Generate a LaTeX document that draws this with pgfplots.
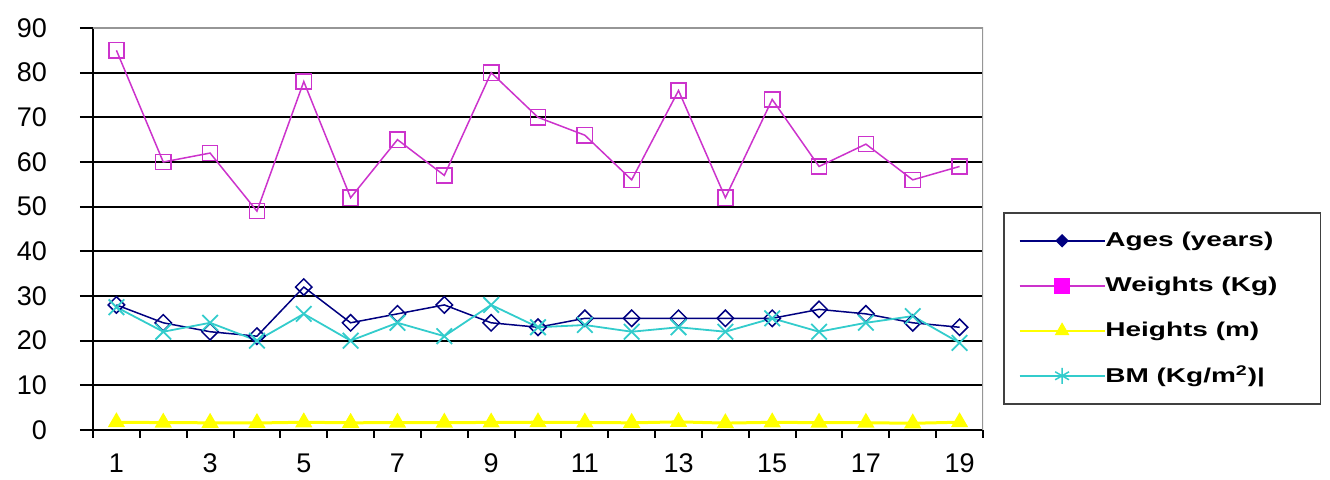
\documentclass[border=0pt]{standalone}
\usepackage{pgfplots}
\pgfplotsset{compat=1.18}
\usepackage{fontspec}
\setmainfont{Liberation Sans}
\newfontfamily\legfont[FakeStretch=1.4]{Liberation Sans}

\definecolor{agec}{RGB}{0,0,128}
\definecolor{wtc}{RGB}{204,51,204}
\definecolor{wtfill}{RGB}{255,0,255}
\definecolor{htc}{RGB}{255,255,0}
\definecolor{bmc}{RGB}{51,204,204}
\definecolor{bordergray}{RGB}{150,150,150}

% 19 subjects
\pgfplotstableread{
n  age weight height bmi
1  28  85  1.74  27.5
2  24  60  1.65  22
3  22  62  1.61  24
4  21  49  1.57  20
5  32  78  1.73  26
6  24  52  1.61  20
7  26  65  1.65  24
8  28  57  1.65  21
9  24  80  1.69  28
10 23  70  1.74  23
11 25  66  1.69  23.5
12 25  56  1.60  22
13 25  76  1.82  23
14 25  52  1.54  22
15 25  74  1.72  25
16 27  59  1.64  22
17 26  64  1.63  24
18 24  56  1.50  25.5
19 23  59  1.74  19.5
}\subjects

\begin{document}
\begin{tikzpicture}
\path[use as bounding box] (0,0) rectangle (665pt,240pt);
\begin{axis}[
    at={(46.5pt,25pt)}, anchor=south west,
    scale only axis,
    width=445pt,
    height=201pt,
    xmin=0.5, xmax=19.5,
    ymin=0, ymax=90,
    axis lines=left,
    axis line style={-, black, line width=1pt},
    ytick={0,10,...,90},
    xtick={1,3,...,19},
    minor xtick={0.5,1.5,...,19.5},
    tick align=outside,
    major x tick style={draw=none},
    major tick length=6.5pt,
    minor tick length=4pt,
    tick style={black, line width=1pt},
    ymajorgrids,
    grid style={black, line width=1pt},
    /pgf/number format/assume math mode=true,
    tick label style={font=\fontsize{13.5}{14}\selectfont},
    yticklabel style={xshift=-13pt},
    xticklabel style={yshift=-2pt},
    legend image code/.code={
        \draw[mark repeat=2, mark phase=2, #1]
            plot coordinates {(0pt,0pt) (21.25pt,0pt) (42.5pt,0pt)};
    },
    legend style={
        at={(1.0225,0.5423)}, anchor=north west,
        draw=black!75, line width=0.8pt,
        inner xsep=7.5pt, inner ysep=7pt,
        row sep=8.5pt,
        nodes={inner sep=0pt, minimum height=14pt},
        font=\legfont\bfseries\fontsize{10}{12}\selectfont,
        /tikz/every even column/.append style={column sep=6.5pt},
        cells={anchor=west},
    },
]
\addlegendimage{agec, line width=0.75pt, mark=square*, mark size=2pt,
    mark options={rotate=45, fill=agec, solid}}
\addlegendentry{\makebox[100pt][l]{Ages (years)}}
\addlegendimage{wtc, line width=0.75pt, mark=square*, mark size=3.5pt,
    mark options={fill=wtfill, draw=wtfill, solid}}
\addlegendentry{\makebox[100pt][l]{Weights (Kg)}}
\addlegendimage{htc, line width=0.75pt, mark=triangle*, mark size=3.5pt,
    mark options={fill=htc, solid}}
\addlegendentry{\makebox[100pt][l]{Heights (m)}}
\addlegendimage{bmc, line width=0.75pt, mark=asterisk, mark size=4pt}
\addlegendentry{\makebox[100pt][l]{BM (Kg/m\textsuperscript{2})|}}

\addplot[forget plot, htc, line width=1.5pt, mark=triangle*, mark size=3.5pt,
    mark options={fill=htc}] table[x=n, y=height] {\subjects};
\addplot[forget plot, agec, line width=0.75pt, mark=square, mark size=2.9pt,
    mark options={rotate=45, fill=white, fill opacity=0.6}] table[x=n, y=age] {\subjects};
\addplot[forget plot, bmc, line width=0.9pt, mark=x, mark size=5.5pt]
    table[x=n, y=bmi] {\subjects};
\addplot[forget plot, wtc, line width=0.75pt, mark=square, mark size=3.8pt,
    mark options={fill=white}] table[x=n, y=weight] {\subjects};

\draw[bordergray, line width=1pt]
    (rel axis cs:0,1) -- (rel axis cs:1,1) -- (rel axis cs:1,0);
\end{axis}
\end{tikzpicture}
\end{document}
